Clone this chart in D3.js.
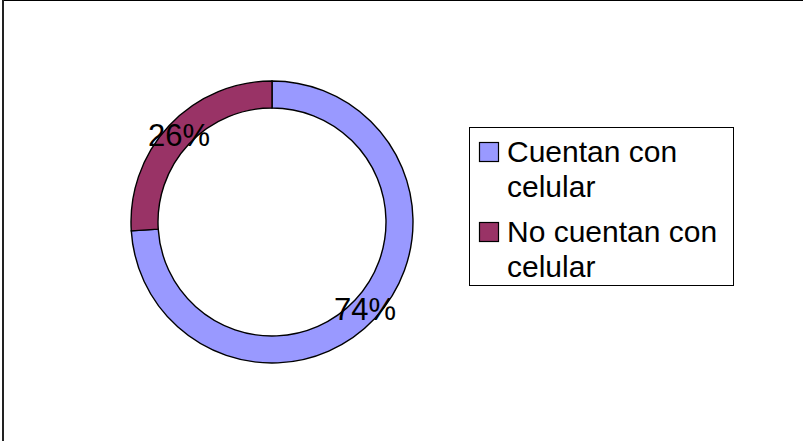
<!DOCTYPE html>
<html>
<head>
<meta charset="utf-8">
<script src="https://cdnjs.cloudflare.com/ajax/libs/d3/7.8.5/d3.min.js"></script>
<style>
	body { margin: 0; background: #fff; }
	text { font-family: Arial, "Liberation Sans", sans-serif; fill: #000; }
</style>
</head>
<body>
<svg id="chart" width="807" height="441"></svg>
<script>
	// chart data
	var categories = ['Cuentan con celular', 'No cuentan con celular'];
	var values = [74, 26];
	var colors = ['#9999ff', '#993366'];
	var legendLines = [['Cuentan con', 'celular'], ['No cuentan con', 'celular']];

	var svg = d3.select('#chart');

	// frame (only top and left edges show in the picture)
	svg.append('line').attr('x1', 2).attr('y1', 0.5).attr('x2', 803).attr('y2', 0.5)
		.attr('stroke', '#000').attr('stroke-width', 1);
	svg.append('line').attr('x1', 3).attr('y1', 0).attr('x2', 3).attr('y2', 441)
		.attr('stroke', '#222').attr('stroke-width', 2);

	var cx = 272, cy = 222;
	var pie = d3.pie().sort(null).value(function(d) { return d; });
	var arc = d3.arc().outerRadius(141).innerRadius(114);
	var labelArc = d3.arc().outerRadius(127.5).innerRadius(127.5);

	var g = svg.append('g').attr('transform', 'translate(' + cx + ',' + cy + ')');
	var slices = pie(values);

	g.selectAll('path').data(slices).enter().append('path')
		.attr('d', arc)
		.attr('fill', function(d, i) { return colors[i]; })
		.attr('stroke', '#000')
		.attr('stroke-width', 1.4);

	var total = d3.sum(values);
	g.selectAll('text.pct').data(slices).enter().append('text')
		.attr('class', 'pct')
		.attr('transform', function(d) { return 'translate(' + labelArc.centroid(d) + ')'; })
		.attr('text-anchor', 'middle')
		.attr('dy', '0.36em')
		.style('font-size', '31px')
		.text(function(d) { return Math.round(d.data / total * 100) + '%'; });

	// legend
	var legend = svg.append('g');
	legend.append('rect')
		.attr('x', 469.5).attr('y', 127.5).attr('width', 264).attr('height', 158)
		.attr('fill', '#fff').attr('stroke', '#000').attr('stroke-width', 1);

	var itemY = [142, 222];
	categories.forEach(function(c, i) {
		legend.append('rect')
			.attr('x', 479.5).attr('y', itemY[i] + 0.5).attr('width', 19).attr('height', 19)
			.attr('fill', colors[i]).attr('stroke', '#000').attr('stroke-width', 1.2);
		var t = legend.append('text')
			.attr('x', 507).attr('y', itemY[i] + 20)
			.style('font-size', '30px');
		legendLines[i].forEach(function(line, j) {
			t.append('tspan').attr('x', 507).attr('dy', j === 0 ? 0 : 35).text(line);
		});
	});
</script>
</body>
</html>
